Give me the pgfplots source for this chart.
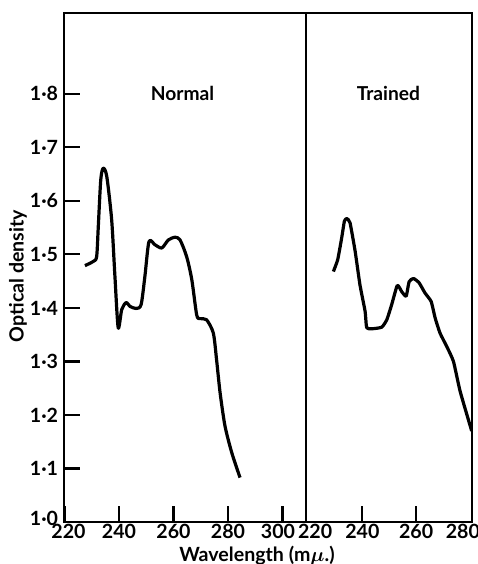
\documentclass[border=0pt]{standalone}
\usepackage{pgfplots}
\pgfplotsset{compat=1.18}
\usepackage{bm}
\usepackage{fontspec}
\setmainfont{Lato}

\pgfplotstableread{
x y
227.5 1.479
230.6 1.487
231.8 1.496
232.4 1.552
233.3 1.639
234.2 1.661
235.5 1.646
237.3 1.565
238.5 1.459
239.7 1.363
241.0 1.397
242.6 1.410
244.0 1.403
246.2 1.399
248.1 1.406
249.5 1.459
251.0 1.524
253.2 1.518
255.7 1.512
258.1 1.527
260.6 1.532
262.4 1.527
264.8 1.496
266.7 1.453
268.5 1.387
269.7 1.380
272.1 1.378
274.6 1.353
275.8 1.303
277.1 1.241
278.9 1.179
281.4 1.129
284.4 1.083
}\normaldata

\pgfplotstableread{
x y
229.2 1.468
230.8 1.490
232.3 1.531
233.3 1.562
234.2 1.567
235.4 1.559
237.3 1.506
239.1 1.443
241.0 1.394
241.6 1.363
243.5 1.361
247.2 1.364
249.1 1.378
250.9 1.406
253.0 1.442
254.7 1.430
256.3 1.422
257.4 1.449
259.0 1.455
261.1 1.447
263.3 1.428
265.6 1.412
267.1 1.381
268.9 1.353
271.4 1.328
273.9 1.300
276.4 1.244
280.7 1.170
}\traineddata

\begin{document}
\fontsize{9}{11}\selectfont\bfseries
\begin{tikzpicture}
\pgfplotsset{
  every axis/.append style={
    scale only axis, height=254.5pt, ymin=1.0, ymax=1.951,
    axis line style={line width=1pt},
    major tick length=8pt,
    every tick/.style={line width=1.1pt, black},
    tick align=inside,
    font=\fontsize{9}{11}\selectfont\bfseries,
    tick label style={font=\fontsize{9.8}{11}\selectfont\bfseries},
    label style={font=\fontsize{9.8}{11}\selectfont\bfseries},
    /pgf/number format/assume math mode=true,
    xticklabel style={inner sep=1pt, anchor=north},
  }
}
\begin{axis}[name=ax1, at={(0,0)}, anchor=south west, width=120.6pt,
  xmin=220, xmax=308.5,
  xtick={220,240,260,280,300},
  xticklabels={\rule{4pt}{0pt}220,240,260,280,300\rule{4.5pt}{0pt}},
  ytick={1.0,1.1,1.2,1.3,1.4,1.5,1.6,1.7,1.8},
  yticklabels={\raisebox{3.5pt}{1·0},1·1,1·2,1·3,1·4,1·5,1·6,1·7,1·8},
  xtick pos=left, ytick pos=left,
  ylabel={Optical density},
  ylabel style={at={(axis description cs:-0.193,0.483)}, anchor=center},
  xlabel={Wavelength (m$\bm{\mu}$.)},
  xlabel style={at={(axis description cs:0.798,-0.067)}, anchor=center},
]
\addplot[black, line width=1.6pt, smooth, tension=0.45, line join=round] table[x=x,y=y] {\normaldata};
\node[font=\fontsize{9.6}{11}\selectfont\bfseries] at (axis cs:263.3,1.8) {Normal};
\end{axis}
\begin{axis}[name=ax2, at={(ax1.south east)}, anchor=south west, width=83pt,
  xmin=218.9, xmax=280.7,
  xtick={240,260}, xticklabels={240,260},
  extra x ticks={220,280},
  extra x tick labels={\rule{6.5pt}{0pt}220,280\rule{7pt}{0pt}},
  extra x tick style={major tick length=0pt},
  ytick=\empty,
  xtick pos=left,
]
\addplot[black, line width=1.6pt, smooth, tension=0.3, line join=round] table[x=x,y=y] {\traineddata};
\node[font=\fontsize{9.6}{11}\selectfont\bfseries] at (axis cs:249.7,1.8) {Trained};
\end{axis}
\pgfresetboundingbox
\path[use as bounding box] (-32.25pt,-21pt) rectangle (206.75pt,261pt);
\end{tikzpicture}
\end{document}
